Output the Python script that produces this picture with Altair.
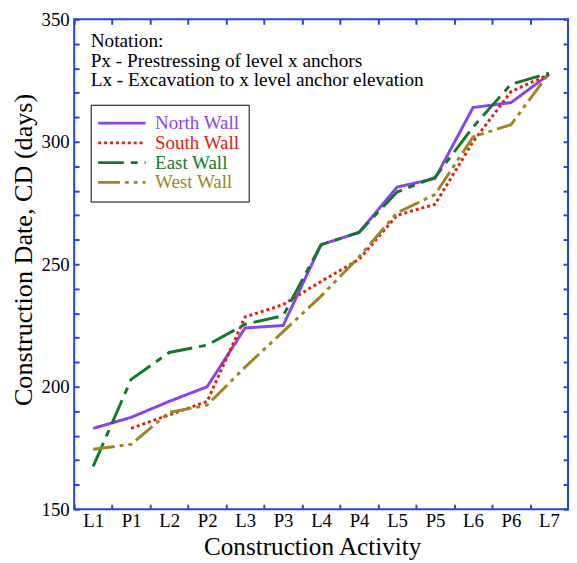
import altair as alt
import pandas as pd

activities = ["L1", "P1", "L2", "P2", "L3", "P3", "L4", "P4", "L5", "P5", "L6", "P6", "L7"]
north = [183, 187.5, 194, 200, 224, 225, 258, 263, 281.5, 285, 314, 316, 327.5]
south = [None, 183, 188.5, 194, 228.5, 233.5, 243, 252, 270, 274.5, 300, 320.5, 327.5]
east = [167.5, 203, 214, 217, 225.5, 229, 258, 263, 279.5, 285.5, 306, 323.5, 328]
west = [174.5, 176.5, 189.5, 192.5, 208, 222.5, 237, 253, 271, 278.5, 302, 307, 328]
walls = ["North Wall", "South Wall", "East Wall", "West Wall"]
colors = ["#8844ee", "#e02010", "#117a2a", "#9c8622"]
dashes = [[1, 0], [3, 3], [26, 7, 7, 7], [22, 5, 4, 5, 4, 5]]
notation = "Notation:\nPx - Prestressing of level x anchors\nLx - Excavation to x level anchor elevation"

BLUE = "#2244e0"
SERIF = "Liberation Serif"

rows = []
for wall, series in zip(walls, [north, south, east, west]):
    for i, (a, v) in enumerate(zip(activities, series)):
        if v is not None:
            rows.append({"Activity": a, "Wall": wall, "CD": v, "order": i})
df = pd.DataFrame(rows)

xscale = alt.Scale(type="band", paddingInner=0, paddingOuter=0)
yscale = alt.Scale(domain=[150, 350], nice=False, zero=False)
yvals = list(range(150, 351, 10))

common_axis = dict(offset=-5, tickSize=5, tickWidth=2, tickColor=BLUE, domain=False, grid=False)

x_bottom = alt.Axis(
    title="Construction Activity", orient="bottom", tickBand="extent", labelAngle=0,
    labelFont=SERIF, labelFontSize=19, labelColor="black", labelPadding=3,
    titleFont=SERIF, titleFontSize=25.5, titleFontWeight="normal", titleColor="black",
    titlePadding=4, titleX=241, **common_axis)
y_left = alt.Axis(
    title="Construction Date, CD (days)", orient="left", values=yvals,
    labelExpr="datum.value % 50 === 0 ? datum.label : ''", labelOverlap=False,
    labelFont=SERIF, labelFontSize=19, labelColor="black", labelPadding=5,
    titleFont=SERIF, titleFontSize=26.5, titleFontWeight="normal", titleColor="black",
    titlePadding=4, titleY=233, **common_axis)
x_top = alt.Axis(title=None, orient="top", tickBand="extent", labels=False, **common_axis)
y_right = alt.Axis(title=None, orient="right", values=yvals, labels=False, **common_axis)

color_expr = " : ".join(
    f"datum.value === '{w}' ? '{c}'" for w, c in zip(walls, colors)
) + " : 'black'"

legend = alt.Legend(
    title=None, orient="none", legendX=16.7, legendY=86.5,
    strokeColor="black", fillColor="white", padding=9,
    symbolType="M-4.8,0H4.8", symbolSize=100, symbolStrokeWidth=3,
    symbolOffset=13, labelOffset=24, rowPadding=0,
    labelFont=SERIF, labelFontSize=19.2,
    labelColor={"expr": color_expr},
)

lines = alt.Chart(df).mark_line(strokeWidth=3).encode(
    x=alt.X("Activity:N", sort=activities, scale=xscale, axis=x_bottom),
    y=alt.Y("CD:Q", scale=yscale, axis=y_left),
    color=alt.Color("Wall:N", scale=alt.Scale(domain=walls, range=colors), legend=legend),
    strokeDash=alt.StrokeDash("Wall:N", scale=alt.Scale(domain=walls, range=dashes), legend=legend),
    detail="Wall:N",
    order="order:Q",
)

mirror = alt.Chart(df).mark_line(opacity=0).encode(
    x=alt.X("Activity:N", sort=activities, scale=xscale, axis=x_top),
    y=alt.Y("CD:Q", scale=yscale, axis=y_right),
    detail="Wall:N",
)

note = alt.Chart(pd.DataFrame({"t": [notation]})).mark_text(
    align="left", baseline="alphabetic", font=SERIF, fontSize=19.5,
    lineBreak="\n", lineHeight=19.5, color="black",
).encode(x=alt.value(16.7), y=alt.value(28.5), text="t:N")

chart = alt.layer(lines, mirror, note).resolve_axis(
    x="independent", y="independent"
).properties(
    width=500, height=496,
    autosize=alt.AutoSizeParams(type="none"),
    padding={"left": 67, "top": 8, "right": 1, "bottom": 49},
    background="white",
).configure_view(stroke=BLUE, strokeWidth=2)

chart.save("out.html", embed_options={"renderer": "svg", "actions": False})
